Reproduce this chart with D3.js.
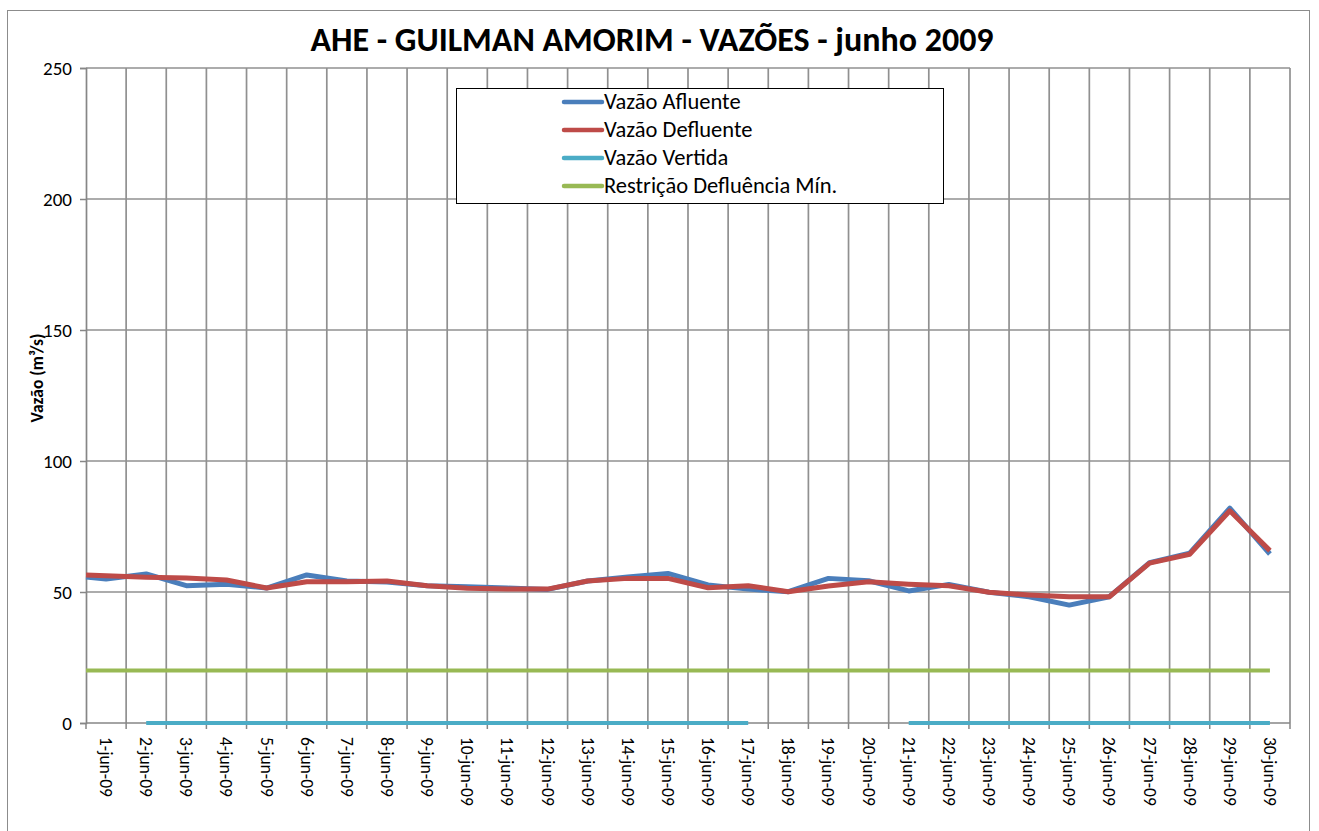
<!DOCTYPE html>
<html>
<head>
<meta charset="utf-8">
<script src="https://cdn.jsdelivr.net/npm/d3@7"></script>
<style>
  body { margin: 0; background: #fff; }
  svg { font-family: Carlito, Lato, "Open Sans", sans-serif; }
</style>
</head>
<body>
<div id="chart"></div>
<script>
/* dias do mês (categorias) */
const dias = d3.range(1, 31).map(d => `${d}-jun-09`);

/* valores (m³/s) */
const afluente = [55.0, 56.9, 52.4, 53.0, 51.5, 56.5, 54.2, 53.8, 52.4, 52.0,
  51.5, 51.0, 54.2, 55.7, 57.1, 52.7, 51.1, 50.1, 55.2, 54.3,
  50.4, 52.9, 49.9, 48.2, 45.0, 48.2, 61.2, 64.8, 82.0, 64.5];
const defluente = [56.2, 55.6, 55.3, 54.6, 51.5, 53.9, 53.9, 54.2, 52.4, 51.4,
  51.1, 51.1, 54.2, 55.2, 55.2, 51.6, 52.4, 50.1, 52.3, 53.9,
  53.0, 52.4, 49.9, 48.9, 48.2, 48.2, 61.0, 64.4, 81.0, 65.8];
const vertida = [null, 0, 0, 0, 0, 0, 0, 0, 0, 0,
  0, 0, 0, 0, 0, 0, 0, null, null, null,
  0, 0, 0, 0, 0, 0, 0, 0, 0, 0];
const restricao = d3.range(30).map(() => 20);
/* valor no início do eixo (as linhas partem da borda esquerda) */
const inicio = { afluente: 55.7, defluente: 56.5, vertida: null, restricao: 20 };

const yTicks = [0, 50, 100, 150, 200, 250];

const series = [
  { key: "afluente", label: "Vazão Afluente", values: afluente, color: "#4a7ebb", width: 5 },
  { key: "defluente", label: "Vazão Defluente", values: defluente, color: "#be4b48", width: 5 },
  { key: "vertida", label: "Vazão Vertida", values: vertida, color: "#4bacc6", width: 4 },
  { key: "restricao", label: "Restrição Defluência Mín.", values: restricao, color: "#98b954", width: 4 }
];

const W = 1319, H = 831;
const margin = { top: 68, right: 29, bottom: 108, left: 86 };
const w = W - margin.left - margin.right;
const h = H - margin.top - margin.bottom;

const svg = d3.select("#chart").append("svg")
  .attr("width", W).attr("height", H);

/* moldura do gráfico */
svg.append("rect").attr("x", 7.5).attr("y", 10.5).attr("width", 1302).attr("height", 830)
  .attr("fill", "none").attr("stroke", "#8c8c8c").attr("stroke-width", 1);

svg.append("text").attr("x", 652).attr("y", 51).attr("text-anchor", "middle")
  .style("font-size", "34px").style("font-weight", "bold").style("fill", "#000")
  .text("AHE - GUILMAN AMORIM - VAZÕES - junho 2009");

const g = svg.append("g").attr("transform", `translate(${margin.left},${margin.top})`);

const x = d3.scaleBand().domain(dias).range([0, w]).padding(0);
const y = d3.scaleLinear().domain([0, 250]).range([h, 0]);
const cx = d => x(d) + x.bandwidth() / 2;

/* grade vertical: limites entre categorias */
const fronteiras = dias.map(d => x(d)).concat([w]);
g.append("g").selectAll("line").data(fronteiras.slice(1)).enter().append("line")
  .attr("x1", d => d).attr("x2", d => d).attr("y1", 0).attr("y2", h)
  .attr("stroke", "#909090").attr("stroke-width", 1.7);

/* grade horizontal */
g.append("g").selectAll("line").data(yTicks.slice(1)).enter().append("line")
  .attr("x1", 0).attr("x2", w).attr("y1", d => y(d)).attr("y2", d => y(d))
  .attr("stroke", "#909090").attr("stroke-width", 1.7);

/* eixo Y */
const yAxis = g.append("g").call(d3.axisLeft(y).tickValues(yTicks).tickSize(6).tickPadding(8));
yAxis.select(".domain").attr("stroke", "#868686").attr("stroke-width", 1.7);
yAxis.selectAll(".tick line").attr("stroke", "#868686").attr("stroke-width", 1.5);
yAxis.selectAll("text").style("font-size", "19px").style("fill", "#000")
  .style("font-family", "Carlito, Lato, 'Open Sans', sans-serif");

g.append("text").attr("transform", "rotate(-90)")
  .attr("x", -310).attr("y", -43).attr("text-anchor", "middle")
  .style("font-size", "17.5px").style("font-weight", "bold").style("fill", "#000")
  .text("Vazão (m³/s)");

/* eixo X */
g.append("g").selectAll("line").data(fronteiras).enter().append("line")
  .attr("x1", d => d).attr("x2", d => d).attr("y1", h).attr("y2", h + 6)
  .attr("stroke", "#868686").attr("stroke-width", 1.5);
g.append("line").attr("x1", 0).attr("x2", w).attr("y1", h).attr("y2", h)
  .attr("stroke", "#868686").attr("stroke-width", 1.7);

g.append("g").selectAll("text").data(dias).enter().append("text")
  .attr("transform", d => `translate(${cx(d) - 6},${h + 14}) rotate(90)`)
  .attr("text-anchor", "start")
  .style("font-size", "17.5px").style("fill", "#000")
  .text(d => d);

/* linhas */
const line = d3.line()
  .defined(p => p.v != null)
  .x(p => p.x).y(p => y(p.v));

series.forEach(s => {
  const pts = [{ x: 0, v: inicio[s.key] }]
    .concat(dias.map((d, i) => ({ x: cx(d), v: s.values[i] })));
  g.append("path").datum(pts)
    .attr("d", line)
    .attr("fill", "none").attr("stroke", s.color)
    .attr("stroke-width", s.width).attr("stroke-linejoin", "round");
});

/* legenda */
const leg = svg.append("g").attr("transform", "translate(456,88)");
leg.append("rect").attr("x", 0.5).attr("y", 0.5).attr("width", 487).attr("height", 115)
  .attr("fill", "#fff").attr("stroke", "#000").attr("stroke-width", 1);
series.forEach((s, i) => {
  const row = leg.append("g").attr("transform", `translate(0,${14 + i * 28})`);
  row.append("line").attr("x1", 108).attr("x2", 146).attr("y1", 0).attr("y2", 0)
    .attr("stroke", s.color).attr("stroke-width", 4.5).attr("stroke-linecap", "round");
  row.append("text").attr("x", 148).attr("y", 7)
    .style("font-size", "22.5px").style("fill", "#000").text(s.label);
});
</script>
</body>
</html>
